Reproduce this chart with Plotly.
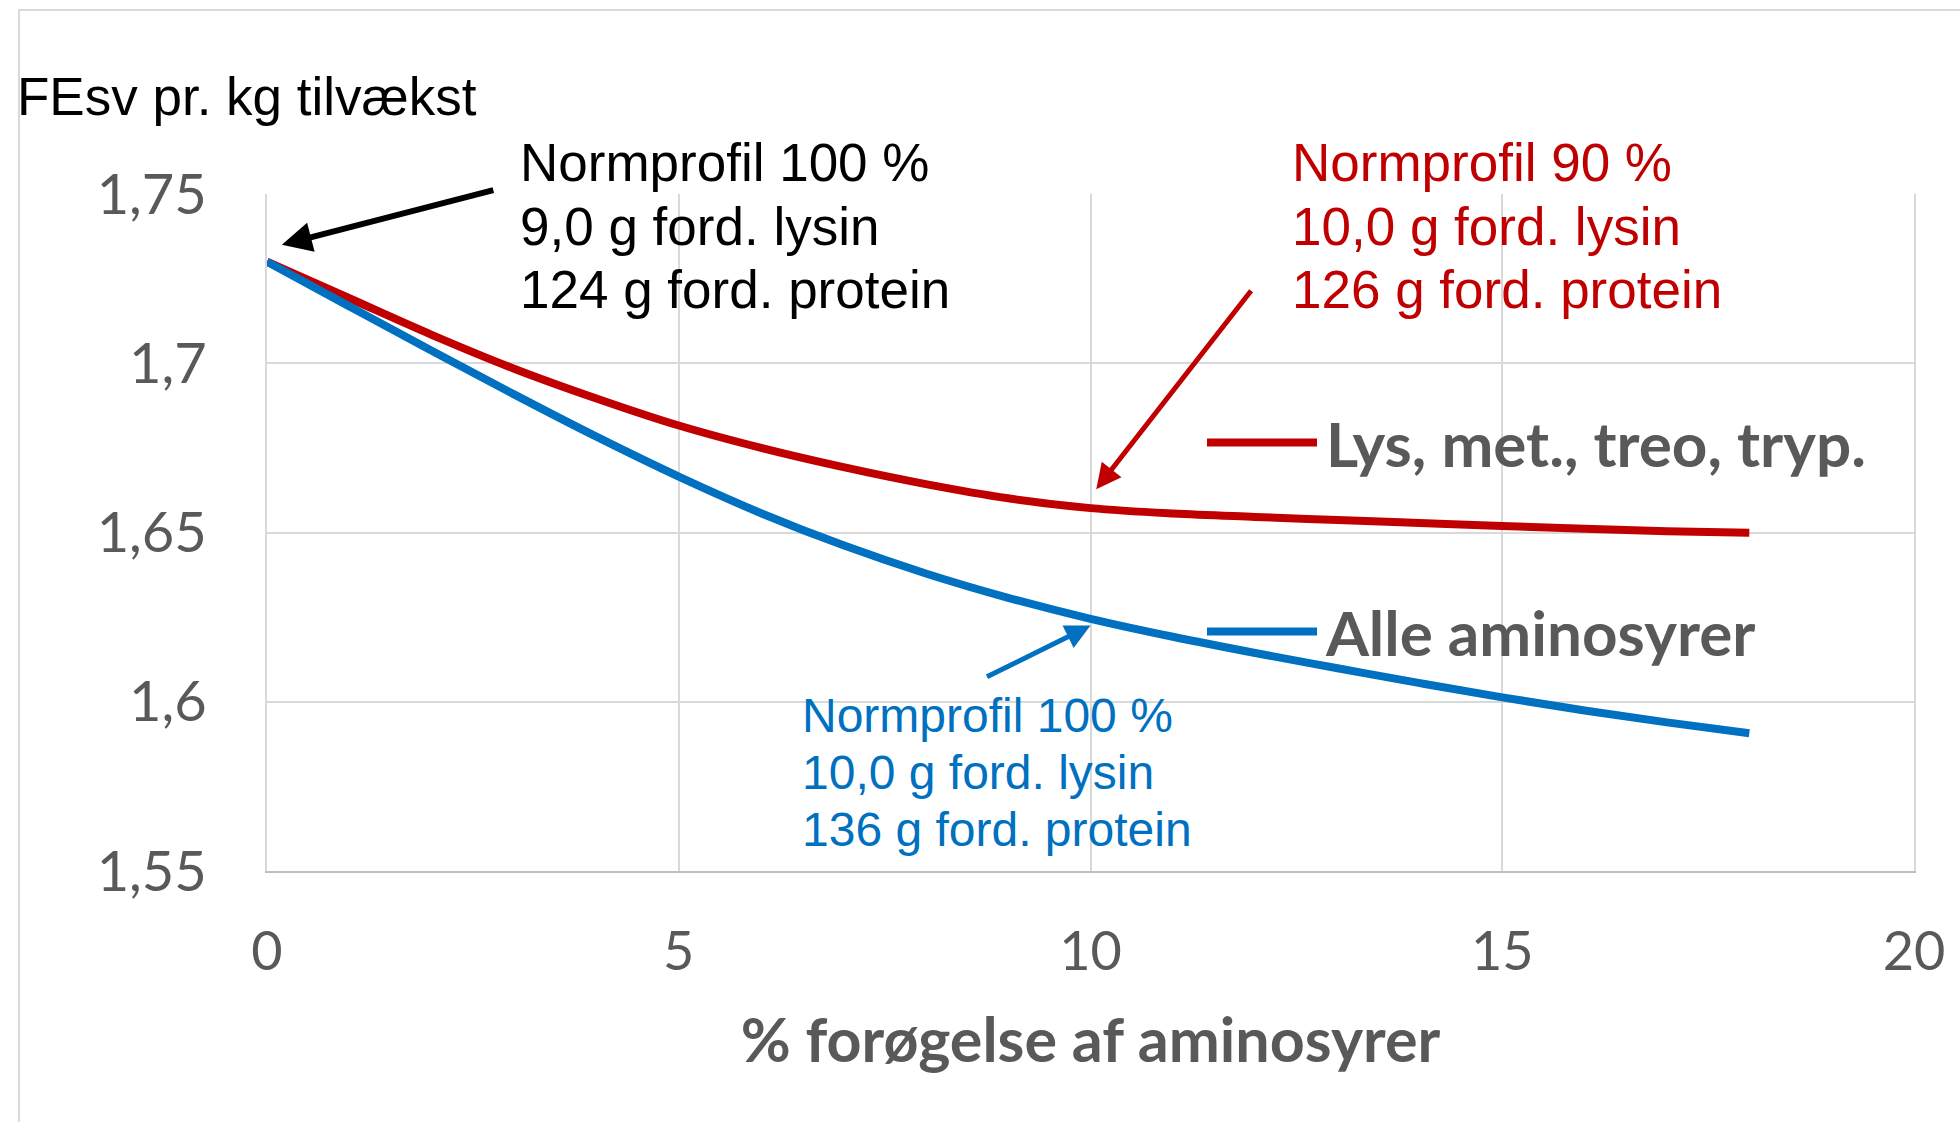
import plotly.graph_objects as go

# ---- data ----
x_pct = list(range(0, 19))
red_vals = [1.7300, 1.7192, 1.7084, 1.6984, 1.6896, 1.6816, 1.6750, 1.6693, 1.6643, 1.6601,
            1.6572, 1.6556, 1.6546, 1.6537, 1.6528, 1.6519, 1.6511, 1.6504, 1.6499]
blue_vals = [1.7300, 1.7168, 1.7037, 1.6908, 1.6783, 1.6665, 1.6557, 1.6462, 1.6379, 1.6307,
             1.6245, 1.6192, 1.6144, 1.6099, 1.6055, 1.6013, 1.5974, 1.5939, 1.5907]
red_name = "\u200aLys, met., treo, tryp."
blue_name = "\u200aAlle aminosyrer"
x_ticks = [0, 5, 10, 15, 20]
y_ticks = [1.55, 1.6, 1.65, 1.7, 1.75]
y_tick_labels = ["1,55", "1,6", "1,65", "1,7", "1,75"]
x_title = "% forøgelse af aminosyrer"
y_title = "FEsv pr. kg tilvækst"
black_lines = ["Normprofil 100 %", "9,0 g ford. lysin", "124 g ford. protein"]
red_lines = ["Normprofil 90 %", "10,0 g ford. lysin", "126 g ford. protein"]
blue_lines = ["Normprofil 100 %", "10,0 g ford. lysin", "136 g ford. protein"]

RED = "#C00000"
BLUE = "#0070C0"
GRAY_TXT = "#595959"
GRID = "#D9D9D9"

fig = go.Figure()
fig.add_trace(go.Scatter(x=x_pct, y=red_vals, mode="lines", name=red_name,
                         line=dict(color=RED, width=8, shape="spline", smoothing=1.0),
                         legend="legend"))
fig.add_trace(go.Scatter(x=x_pct, y=blue_vals, mode="lines", name=blue_name,
                         line=dict(color=BLUE, width=8, shape="spline", smoothing=1.0),
                         legend="legend2"))

legend_font = dict(family="Lato", size=62, color=GRAY_TXT, weight=700)
fig.update_layout(
    width=1960, height=1122,
    margin=dict(l=267, r=46, t=194, b=251),
    plot_bgcolor="white", paper_bgcolor="white",
    separators=",.",
    showlegend=True,
    legend=dict(x=0.5677, y=0.6326, xanchor="left", yanchor="middle", font=legend_font,
                itemwidth=110, bgcolor="rgba(0,0,0,0)", visible=True),
    legend2=dict(x=0.5677, y=0.3535, xanchor="left", yanchor="middle", font=legend_font,
                 itemwidth=110, bgcolor="rgba(0,0,0,0)", visible=True),
    xaxis=dict(range=[0, 20], tickvals=x_ticks, showgrid=True, gridcolor=GRID, gridwidth=2,
               showline=True, linecolor="#BFBFBF", linewidth=2, zeroline=False,
               tickfont=dict(family="Lato", size=54, color=GRAY_TXT), ticks="",
               ticklabelstandoff=32,
               title=dict(text=x_title, standoff=39,
                          font=dict(family="Lato", size=61, color=GRAY_TXT, weight=700))),
    yaxis=dict(range=[1.55, 1.75], tickvals=y_ticks, ticktext=y_tick_labels,
               showgrid=True, gridcolor=GRID, gridwidth=2,
               showline=True, linecolor=GRID, linewidth=2, mirror=True, zeroline=False,
               tickfont=dict(family="Lato", size=56, color=GRAY_TXT), ticks="",
               ticklabelstandoff=47),
)

# outer chart border
fig.add_shape(type="rect", xref="paper", yref="paper", x0=-0.1506, x1=1.2, y0=-0.6, y1=1.2718,
              line=dict(color=GRID, width=2), layer="below")

# y title
fig.add_annotation(xref="paper", yref="paper", x=-0.1530, y=1.1433, xanchor="left", yanchor="middle",
                   text=y_title, showarrow=False,
                   font=dict(family="Liberation Sans", size=53, color="black"))

def add_block(lines, x, ys, color, size):
    for t, yy in zip(lines, ys):
        fig.add_annotation(x=x, y=yy, xref="paper", yref="paper", xanchor="left", yanchor="middle",
                           text=t, showarrow=False,
                           font=dict(family="Liberation Sans", size=size, color=color))

add_block(black_lines, 0.1521, [1.0465, 0.9527, 0.8582], "black", 53)
add_block(red_lines, 0.6211, [1.0465, 0.9527, 0.8582], RED, 53)
add_block(blue_lines, 0.3236, [0.2304, 0.1455, 0.0606], BLUE, 48)

# arrows
fig.add_annotation(x=0.18, y=1.735, xref="x", yref="y", ax=213, ay=-55,
                   text="", showarrow=True, arrowhead=2, arrowsize=1, arrowwidth=6, arrowcolor="black")
fig.add_annotation(x=10.07, y=1.6628, xref="x", yref="y", ax=156, ay=-200,
                   text="", showarrow=True, arrowhead=2, arrowsize=1, arrowwidth=5, arrowcolor=RED)
fig.add_annotation(x=10.0, y=1.6225, xref="x", yref="y", ax=-105, ay=52,
                   text="", showarrow=True, arrowhead=2, arrowsize=1, arrowwidth=5, arrowcolor=BLUE)

fig.write_html("out.html", config={"displayModeBar": False},
               post_script="document.body.style.margin='0';")
